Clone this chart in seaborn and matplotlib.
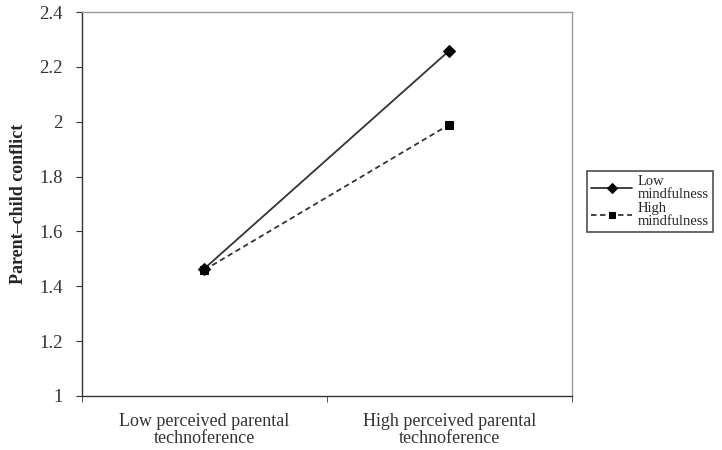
import pandas as pd
import matplotlib.pyplot as plt
import seaborn as sns
import numpy as np

# data
conditions = ['Low perceived parental\ntechnoference', 'High perceived parental\ntechnoference']
groups = ['Low\nmindfulness', 'High\nmindfulness']
low_mind = [1.465, 2.26]
high_mind = [1.46, 1.99]

df = pd.DataFrame({
    'cond': conditions * 2,
    'group': [groups[0]] * 2 + [groups[1]] * 2,
    'value': low_mind + high_mind,
})

sns.set_style('white')
plt.rcParams['font.family'] = ['Liberation Serif', 'DejaVu Serif']

fig = plt.figure(figsize=(7.22, 4.5), dpi=100)
ax = fig.add_axes([0.1136, 0.12, 0.6784, 0.853])

sns.lineplot(data=df, x='cond', y='value', style='group', ax=ax,
             markers={groups[0]: 'D', groups[1]: 's'},
             dashes={groups[0]: '', groups[1]: (3, 2)},
             color='#333333', linewidth=1.3, markersize=6,
             markeredgecolor='black', markerfacecolor='black')

ax.set_xlim(-0.5, 1.5)
ax.set_ylim(1, 2.4)
ax.set_yticks(np.arange(1, 2.41, 0.2))
ax.set_yticklabels(['1', '1.2', '1.4', '1.6', '1.8', '2', '2.2', '2.4'])
ax.set_xticks([0, 1])
ax.set_xticklabels(conditions)
ax.set_xticks([-0.5, 0.5, 1.5], minor=True)
ax.tick_params(axis='x', which='major', length=0, pad=12, labelsize=13, colors='#333333')
ax.tick_params(axis='x', which='minor', length=4, direction='out', color='#333333', bottom=True)
ax.tick_params(axis='y', length=4, direction='out', left=True, labelsize=13.5, colors='#333333', pad=10)
for t in ax.get_xticklabels():
    t.set_linespacing(1.05)
for s in ['left', 'bottom']:
    ax.spines[s].set_color('#333333')
    ax.spines[s].set_linewidth(1.0)
for s in ['top', 'right']:
    ax.spines[s].set_color('#999999')
    ax.spines[s].set_linewidth(1.0)

ax.set_xlabel('')
ax.set_ylabel('Parent\u2013child conflict', fontsize=13, fontweight='bold', labelpad=9)

leg = ax.legend(loc='upper left', bbox_to_anchor=(587 / 722, 1 - 171 / 450),
                bbox_transform=fig.transFigure, frameon=True, fancybox=False,
                edgecolor='#222222', fontsize=10.5, handlelength=2.8, markerscale=0.8,
                borderpad=0.3, labelspacing=0.1, handletextpad=0.35, borderaxespad=0)
leg.get_frame().set_linewidth(1.2)
for t in leg.get_texts():
    t.set_linespacing(0.95)

plt.savefig('out.png', dpi=100)
